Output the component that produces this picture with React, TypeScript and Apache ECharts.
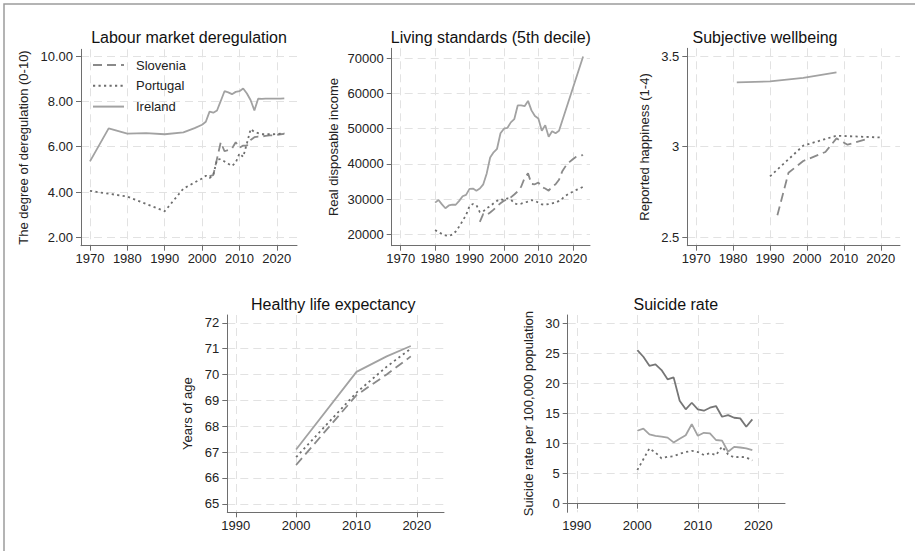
import React, { useEffect, useRef } from "react";
import * as echarts from "echarts";

// ---------- Panel 1: Labour market deregulation ----------
const lmdIrelandYears = [1970, 1975, 1980, 1985, 1990, 1995, 1998, 2000, 2001, 2002, 2003, 2004, 2005, 2006, 2007, 2008, 2009, 2010, 2011, 2012, 2013, 2014, 2015, 2016, 2017, 2018, 2019, 2020, 2021, 2022];
const lmdIrelandValues = [5.35, 6.81, 6.58, 6.6, 6.55, 6.63, 6.82, 6.97, 7.1, 7.55, 7.5, 7.6, 8.02, 8.45, 8.4, 8.32, 8.42, 8.45, 8.57, 8.35, 8.05, 7.6, 8.12, 8.11, 8.12, 8.12, 8.12, 8.12, 8.12, 8.13];
const lmdPortugalYears = [1970, 1980, 1990, 1995, 2000, 2001, 2002, 2003, 2004, 2005, 2006, 2007, 2008, 2009, 2010, 2011, 2012, 2013, 2014, 2015, 2016, 2017, 2018, 2019, 2020, 2021, 2022];
const lmdPortugalValues = [4.05, 3.8, 3.15, 4.15, 4.6, 4.72, 4.62, 4.75, 5.43, 5.45, 5.35, 5.25, 5.15, 5.3, 5.7, 5.55, 6.15, 6.78, 6.65, 6.6, 6.55, 6.55, 6.55, 6.55, 6.56, 6.58, 6.6];
const lmdSloveniaYears = [2002, 2003, 2005, 2006, 2007, 2008, 2009, 2010, 2011, 2012, 2013, 2014, 2015, 2016, 2017, 2018, 2019, 2020, 2021, 2022];
const lmdSloveniaValues = [4.7, 4.75, 6.2, 5.8, 5.85, 5.92, 6.2, 5.95, 6.05, 6.05, 6.3, 6.42, 6.45, 6.45, 6.48, 6.5, 6.5, 6.52, 6.55, 6.57];

// ---------- Panel 2: Living standards (5th decile) ----------
const lsIrelandYears = [1980, 1981, 1982, 1983, 1984, 1985, 1986, 1987, 1988, 1989, 1990, 1991, 1992, 1993, 1994, 1995, 1996, 1997, 1998, 1999, 2000, 2001, 2002, 2003, 2004, 2005, 2006, 2007, 2008, 2009, 2010, 2011, 2012, 2013, 2014, 2015, 2016, 2023];
const lsIrelandValues = [29000, 29750, 28500, 27400, 28200, 28400, 28400, 29500, 30800, 31200, 32900, 33000, 32400, 33000, 34200, 37300, 41800, 43300, 44300, 48700, 50000, 50200, 51800, 52700, 56600, 56600, 56400, 57900, 55200, 53600, 52900, 49400, 51000, 47700, 49300, 48700, 49400, 70500];
const lsSloveniaYears = [1993, 1994, 1995, 1996, 1997, 1998, 1999, 2000, 2001, 2002, 2003, 2004, 2005, 2006, 2007, 2008, 2009, 2010, 2011, 2012, 2013, 2014, 2015, 2016, 2017, 2018, 2019, 2020, 2021, 2022, 2023];
const lsSloveniaValues = [23500, 25800, 25500, 26200, 27000, 28000, 28800, 29500, 30000, 30500, 31300, 32200, 33500, 36000, 37300, 34300, 34200, 34700, 33400, 33000, 32400, 33500, 34200, 35500, 38000, 39500, 40500, 41300, 42000, 42300, 42500];
const lsPortugalYears = [1980, 1981, 1982, 1983, 1984, 1985, 1986, 1987, 1988, 1989, 1990, 1991, 1992, 1993, 1994, 1995, 1996, 1997, 1998, 1999, 2000, 2001, 2002, 2003, 2004, 2005, 2006, 2007, 2008, 2009, 2010, 2011, 2012, 2013, 2014, 2015, 2016, 2017, 2018, 2019, 2020, 2021, 2022, 2023];
const lsPortugalValues = [21200, 20600, 20100, 19700, 19500, 19900, 20800, 22200, 23800, 25500, 28000, 28600, 28300, 26300, 26500, 27400, 28000, 28800, 29500, 30000, 29700, 30200, 29900, 28800, 28500, 28700, 29000, 29300, 29700, 29500, 29000, 28500, 28400, 28600, 28800, 29000, 29500, 30200, 31000, 31600, 32100, 32600, 33000, 33500];

// ---------- Panel 3: Subjective wellbeing ----------
const swIrelandYears = [1981, 1990, 1999, 2008];
const swIrelandValues = [3.355, 3.36, 3.38, 3.41];
const swPortugalYears = [1990, 1999, 2008, 2020];
const swPortugalValues = [2.835, 3.005, 3.06, 3.05];
const swSloveniaYears = [1992, 1995, 1999, 2005, 2008, 2011, 2016];
const swSloveniaValues = [2.62, 2.855, 2.92, 2.97, 3.045, 3.01, 3.04];

// ---------- Panel 4: Healthy life expectancy ----------
const hleYears = [2000, 2010, 2015, 2019];
const hleIreland = [67.1, 70.1, 70.7, 71.1];
const hlePortugal = [66.8, 69.3, 70.3, 71.0];
const hleSlovenia = [66.5, 69.2, 70.0, 70.7];

// ---------- Panel 5: Suicide rate ----------
const srYears = [2000, 2001, 2002, 2003, 2004, 2005, 2006, 2007, 2008, 2009, 2010, 2011, 2012, 2013, 2014, 2015, 2016, 2017, 2018, 2019];
const srSlovenia = [25.56, 24.45, 22.95, 23.18, 22.23, 20.69, 21.02, 17.13, 15.7, 16.8, 15.7, 15.47, 15.97, 16.25, 14.47, 14.75, 14.3, 14.2, 12.8, 14.03];
const srIreland = [12.14, 12.5, 11.55, 11.3, 11.15, 11.0, 10.2, 10.8, 11.4, 13.25, 11.3, 11.8, 11.7, 10.6, 10.5, 8.65, 9.45, 9.35, 9.2, 8.9];
const srPortugal = [5.6, 7.4, 9.2, 8.5, 7.55, 7.8, 7.9, 8.3, 8.6, 8.8, 8.6, 8.1, 8.4, 8.1, 9.5, 8.2, 7.7, 7.8, 7.7, 7.2];

// ---------- Axis ticks ----------
const xTicksTop = [1970, 1980, 1990, 2000, 2010, 2020];
const xTicksBottom = [1990, 2000, 2010, 2020];
const yTicksLmd = [2, 4, 6, 8, 10];
const yTicksLs = [20000, 30000, 40000, 50000, 60000, 70000];
const yTicksSw = [2.5, 3, 3.5];
const yTicksHle = [65, 66, 67, 68, 69, 70, 71, 72];
const yTicksSr = [0, 5, 10, 15, 20, 25, 30];

const titles = ["Labour market deregulation", "Living standards (5th decile)", "Subjective wellbeing", "Healthy life expectancy", "Suicide rate"];
const yNames = ["The degree of deregulation (0-10)", "Real disposable income", "Reported happiness (1-4)", "Years of age", "Suicide rate per 100,000 population"];
const countries = ["Slovenia", "Portugal", "Ireland"];

const pairs = (xs: number[], ys: number[]) => xs.map((x, i) => [x, ys[i]]);

const FONT = '"Liberation Sans", Arial, sans-serif';
const AXIS_COLOR = "#6e6e6e";
const GRID_COLOR = "#e2e2e2";
const TEXT_COLOR = "#222";

const C_IRL = "#a2a2a2";
const C_SVN = "#8a8a8a";
const C_PRT = "#6e6e6e";
const C_SVN_SOLID = "#767676";

const grids = [
  { left: 81, top: 49.3, width: 216, height: 196.4 },
  { left: 391.7, top: 48.3, width: 198.3, height: 197.4 },
  { left: 687.3, top: 48.3, width: 212.7, height: 197.4 },
  { left: 227.3, top: 315, width: 216.7, height: 197.3 },
  { left: 567.7, top: 315, width: 217.3, height: 197.3 },
];
const xRanges = [
  [1967.6, 2025.4],
  [1967.4, 2025.0],
  [1967.6, 2025.2],
  [1988.6, 2024.5],
  [1988.5, 2024.4],
];
const yRanges = [
  [1.63, 10.3],
  [16760, 72840],
  [2.452, 3.543],
  [64.67, 72.3],
  [-1.43, 31.4],
];
const nameGaps = [51, 52, 36, 33, 32.5];
const titlePos = [
  [189, 37.5],
  [490.8, 37.5],
  [765, 37.5],
  [333.3, 304],
  [675.8, 304],
];

function makeX(i: number) {
  const ticks = i < 3 ? xTicksTop : xTicksBottom;
  return {
    type: "value",
    gridIndex: i,
    min: xRanges[i][0],
    max: xRanges[i][1],
    axisLine: { show: true, lineStyle: { color: AXIS_COLOR, width: 1 } },
    axisTick: { show: true, length: 5, customValues: ticks, lineStyle: { color: AXIS_COLOR } },
    axisLabel: {
      customValues: ticks,
      formatter: (v: number) => String(v),
      color: TEXT_COLOR,
      fontSize: 13,
      fontFamily: FONT,
      margin: i < 3 ? 6 : 7,
    },
    splitLine: { show: true, lineStyle: { color: GRID_COLOR, type: [8, 5], width: 1 } },
  };
}

function makeY(i: number, ticks: number[], fmt: (v: number) => string) {
  return {
    type: "value",
    gridIndex: i,
    min: yRanges[i][0],
    max: yRanges[i][1],
    name: yNames[i],
    nameLocation: "middle",
    nameGap: nameGaps[i],
    nameTextStyle: { color: TEXT_COLOR, fontSize: 13, fontFamily: FONT },
    axisLine: { show: true, lineStyle: { color: AXIS_COLOR, width: 1 } },
    axisTick: { show: true, length: 5, customValues: ticks, lineStyle: { color: AXIS_COLOR } },
    axisLabel: {
      customValues: ticks,
      formatter: fmt,
      color: TEXT_COLOR,
      fontSize: 13,
      fontFamily: FONT,
      margin: 8,
    },
    splitLine: { show: true, lineStyle: { color: GRID_COLOR, type: [8, 5], width: 1 } },
  };
}

function line(name: string, idx: number, data: number[][], color: string, type: any) {
  return {
    type: "line",
    name,
    xAxisIndex: idx,
    yAxisIndex: idx,
    data,
    symbol: "none",
    showSymbol: false,
    lineStyle: { color, width: 1.8, type },
    itemStyle: { color },
    emphasis: { disabled: true },
  };
}

const DASH = [9, 5];
const DOT = [2.2, 3.3];

export default function App() {
  const ref = useRef<HTMLDivElement>(null);
  useEffect(() => {
    if (!ref.current) return;
    const chart = echarts.init(ref.current, undefined, { renderer: "svg" });
    const option: any = {
      animation: false,
      textStyle: { fontFamily: FONT },
      grid: grids.map((g) => ({ ...g, containLabel: false })),
      xAxis: [0, 1, 2, 3, 4].map(makeX),
      yAxis: [
        makeY(0, yTicksLmd, (v) => v.toFixed(2)),
        makeY(1, yTicksLs, (v) => String(v)),
        makeY(2, yTicksSw, (v) => String(v)),
        makeY(3, yTicksHle, (v) => String(v)),
        makeY(4, yTicksSr, (v) => String(v)),
      ],
      legend: {
        data: countries,
        orient: "vertical",
        left: 92,
        top: 58.5,
        padding: 0,
        itemWidth: 31,
        itemHeight: 14,
        itemGap: 7.8,
        selectedMode: false,
        itemStyle: { opacity: 0 },
        textStyle: { color: TEXT_COLOR, fontSize: 13, fontFamily: FONT, padding: [0, 0, 0, 7] },
      },
      graphic: [
        {
          type: "rect",
          silent: true,
          shape: { x: 4, y: 4, width: 1400, height: 1400 },
          style: { fill: "none", stroke: "#9c9c9c", lineWidth: 1.5 },
        },
        ...titles.map((t, i) => ({
          type: "text",
          silent: true,
          x: titlePos[i][0],
          y: titlePos[i][1],
          style: {
            text: t,
            font: `16px ${FONT}`,
            fill: "#111",
            textAlign: "center",
            textVerticalAlign: "middle",
          },
        })),
      ],
      series: [
        line("Slovenia", 0, pairs(lmdSloveniaYears, lmdSloveniaValues), C_SVN, DASH),
        line("Portugal", 0, pairs(lmdPortugalYears, lmdPortugalValues), C_PRT, DOT),
        line("Ireland", 0, pairs(lmdIrelandYears, lmdIrelandValues), C_IRL, "solid"),

        line("Ireland", 1, pairs(lsIrelandYears, lsIrelandValues), C_IRL, "solid"),
        line("Slovenia", 1, pairs(lsSloveniaYears, lsSloveniaValues), C_SVN, DASH),
        line("Portugal", 1, pairs(lsPortugalYears, lsPortugalValues), C_PRT, DOT),

        line("Ireland", 2, pairs(swIrelandYears, swIrelandValues), C_IRL, "solid"),
        line("Portugal", 2, pairs(swPortugalYears, swPortugalValues), C_PRT, DOT),
        line("Slovenia", 2, pairs(swSloveniaYears, swSloveniaValues), C_SVN, DASH),

        line("Ireland", 3, pairs(hleYears, hleIreland), C_IRL, "solid"),
        line("Portugal", 3, pairs(hleYears, hlePortugal), C_PRT, DOT),
        line("Slovenia", 3, pairs(hleYears, hleSlovenia), C_SVN, DASH),

        line("Slovenia", 4, pairs(srYears, srSlovenia), C_SVN_SOLID, "solid"),
        line("Ireland", 4, pairs(srYears, srIreland), C_IRL, "solid"),
        line("Portugal", 4, pairs(srYears, srPortugal), C_PRT, DOT),
      ],
    };
    chart.setOption(option);
    return () => chart.dispose();
  }, []);
  return (
    <div
      ref={ref}
      style={{ position: "absolute", left: 0, top: 0, width: 915, height: 551, background: "#fff" }}
    />
  );
}
